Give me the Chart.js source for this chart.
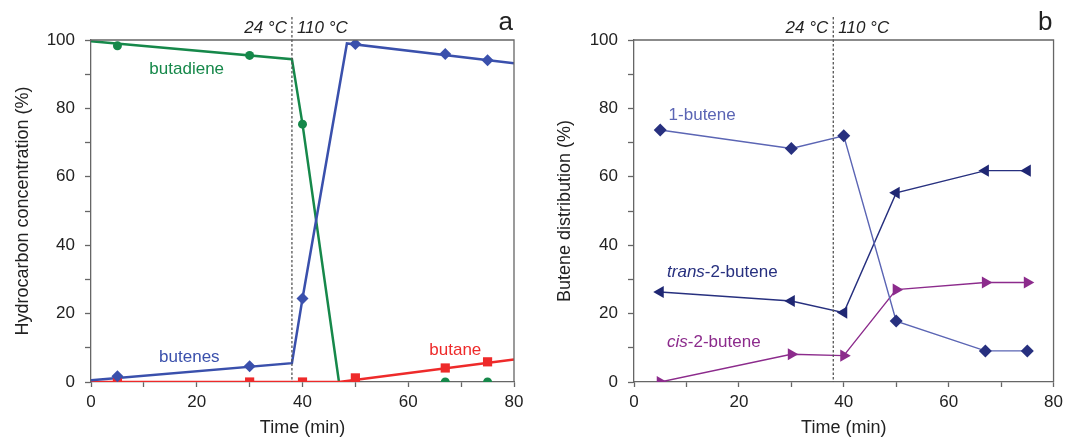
<!DOCTYPE html>
<html>
<head>
<meta charset="utf-8">
<script src="https://cdn.jsdelivr.net/npm/chart.js@4"></script>
<style>
  body { margin: 0; background: #fff; }
  .wrap { position: relative; width: 1068px; height: 437px; }
  canvas { position: absolute; top: 0; }
  #chartA { left: 0; }
  #chartB { left: 534px; }
</style>
</head>
<body>
<div class="wrap">
  <canvas id="chartA" width="534" height="437"></canvas>
  <canvas id="chartB" width="534" height="437"></canvas>
</div>
<script>
// ---- data ----
const TIME = [5, 30, 40, 50, 67, 75];
const X_TICKS = [0, 20, 40, 60, 80];
const Y_TICKS = [0, 20, 40, 60, 80, 100];
const SWITCH_TIME = 38; // 24 °C -> 110 °C

// panel a: hydrocarbon concentration (%)
const butadiene = [98.3, 95.5, 75.4, 0, 0, 0];
const butenes = [1.7, 4.6, 24.4, 98.8, 95.9, 94.1];
const butane = [0, 0, 0, 1.2, 4.1, 5.9];
// guide curves drawn through the points
const butadieneFitX = [0, 38, 40, 46.9];
const butadieneFitY = [99.6, 94.4, 75.4, 0];
const butenesFitX = [0, 38, 40, 48.4, 80];
const butenesFitY = [0.5, 5.5, 24.4, 99, 93.2];
const butaneFitX = [0, 46.9, 80];
const butaneFitY = [0, 0, 6.6];

// panel b: butene distribution (%)
const oneButene = [73.7, 68.3, 72.0, 17.8, 9.1, 9.1];
const trans2Butene = [26.3, 23.7, 20.3, 55.3, 61.8, 61.8];
const cis2Butene = [0, 8.1, 7.7, 27.0, 29.1, 29.1];

const COLOR = {
  green: "#16884a",
  blue: "#3a50ac",
  red: "#ee2a2a",
  navy: "#27307f",
  navyMarker: "#1f2773",
  lightBlue: "#5b65b4",
  purple: "#8c2b8c",
  axis: "#666",
  text: "#222",
};
const FONT = "'Liberation Sans', Arial, Helvetica, sans-serif";

const pts = (xs, ys) => xs.map((x, i) => ({ x, y: ys[i] }));

function lineSet(xs, ys, color, width, order) {
  return {
    data: pts(xs, ys),
    borderColor: color,
    borderWidth: width,
    pointRadius: 0,
    tension: 0,
    order,
  };
}

function markerSet(xs, ys, color, style, radius, order, rotation = 0) {
  return {
    data: pts(xs, ys),
    showLine: false,
    pointStyle: style,
    pointRadius: radius,
    pointRotation: rotation,
    pointBackgroundColor: color,
    pointBorderColor: color,
    pointBorderWidth: 0,
    order,
  };
}

// frame, temperature marker, panel letter and series labels
const decorPlugin = {
  id: "decor",
  afterDatasetsDraw(chart, args, opts) {
    const { ctx, chartArea: a, scales } = chart;
    const x = scales.x;
    const y = scales.y;
    ctx.save();

    // top + right frame
    ctx.strokeStyle = COLOR.axis;
    ctx.lineWidth = 1.3;
    ctx.beginPath();
    ctx.moveTo(a.left, a.top);
    ctx.lineTo(a.right, a.top);
    ctx.lineTo(a.right, a.bottom);
    ctx.stroke();

    // temperature switch line
    const xs = x.getPixelForValue(SWITCH_TIME);
    ctx.strokeStyle = "#555";
    ctx.lineWidth = 1.3;
    ctx.setLineDash([2.5, 2]);
    ctx.beginPath();
    ctx.moveTo(xs, 17);
    ctx.lineTo(xs, a.bottom);
    ctx.stroke();
    ctx.setLineDash([]);

    ctx.fillStyle = COLOR.text;
    ctx.font = `italic 17px ${FONT}`;
    ctx.textBaseline = "middle";
    ctx.textAlign = "right";
    ctx.fillText("24 °C", xs - 5, 28);
    ctx.textAlign = "left";
    ctx.fillText("110 °C", xs + 5, 28);

    ctx.font = `26px ${FONT}`;
    ctx.textAlign = "right";
    ctx.fillText(opts.letter, a.right - 1, 23);

    // series labels
    opts.labels.forEach((l) => {
      const px = x.getPixelForValue(l.x);
      const py = y.getPixelForValue(l.y);
      ctx.textAlign = l.align || "center";
      ctx.fillStyle = l.color;
      if (l.italic) {
        ctx.font = `italic 17px ${FONT}`;
        ctx.fillText(l.italic, px, py);
        const w = ctx.measureText(l.italic).width;
        ctx.font = `17px ${FONT}`;
        ctx.fillText(l.text, px + w, py);
      } else {
        ctx.font = `17px ${FONT}`;
        ctx.fillText(l.text, px, py);
      }
    });
    ctx.restore();
  },
};

function scalesFor(yTitle, yWidth, titlePad) {
  const tickFont = { family: FONT, size: 17 };
  return {
    x: {
      type: "linear",
      min: 0,
      max: 80,
      afterBuildTicks: (s) => {
        s.ticks = [];
        for (let v = 0; v <= 80; v += 10) s.ticks.push({ value: v });
      },
      afterFit: (s) => {
        s.height = 55;
      },
      grid: { drawOnChartArea: false, tickLength: 5, color: COLOR.axis, tickWidth: 1.3 },
      border: { color: COLOR.axis, width: 1.3 },
      ticks: {
        font: tickFont,
        color: COLOR.text,
        padding: 5,
        maxRotation: 0,
        callback: (v) => (X_TICKS.includes(v) ? v : ""),
      },
      title: {
        display: true,
        text: "Time (min)",
        font: { family: FONT, size: 18 },
        color: COLOR.text,
        padding: { top: 0, bottom: -2 },
      },
    },
    y: {
      type: "linear",
      min: 0,
      max: 100,
      afterBuildTicks: (s) => {
        s.ticks = [];
        for (let v = 0; v <= 100; v += 10) s.ticks.push({ value: v });
      },
      afterFit: (s) => {
        s.width = yWidth;
      },
      grid: { drawOnChartArea: false, tickLength: 6, color: COLOR.axis, tickWidth: 1.3 },
      border: { color: COLOR.axis, width: 1.3 },
      ticks: {
        font: tickFont,
        color: COLOR.text,
        padding: 10,
        callback: (v) => (Y_TICKS.includes(v) ? v : ""),
      },
      title: {
        display: true,
        text: yTitle,
        font: { family: FONT, size: 18 },
        color: COLOR.text,
        padding: { top: titlePad, bottom: 0 },
      },
    },
  };
}

function baseOptions(yTitle, yWidth, titlePad, rightPad, letter, labels) {
  return {
    responsive: false,
    animation: false,
    devicePixelRatio: 1,
    layout: { padding: { top: 40, right: rightPad, left: 0, bottom: 0 } },
    plugins: {
      legend: { display: false },
      tooltip: { enabled: false },
      decor: { letter, labels },
    },
    scales: scalesFor(yTitle, yWidth, titlePad),
  };
}

// panel a
new Chart(document.getElementById("chartA"), {
  type: "line",
  data: {
    datasets: [
      markerSet(TIME, butenes, COLOR.blue, "rectRot", 6, 1),
      markerSet(TIME, butane, COLOR.red, "rect", 6.5, 2),
      markerSet(TIME, butadiene, COLOR.green, "circle", 4.5, 3),
      lineSet(butenesFitX, butenesFitY, COLOR.blue, 2.5, 4),
      lineSet(butaneFitX, butaneFitY, COLOR.red, 2.5, 5),
      lineSet(butadieneFitX, butadieneFitY, COLOR.green, 2.5, 6),
    ],
  },
  options: baseOptions("Hydrocarbon concentration (%)", 91, 12, 20, "a", [
    { text: "butadiene", x: 18.1, y: 91.5, color: COLOR.green },
    { text: "butenes", x: 18.6, y: 7.3, color: COLOR.blue },
    { text: "butane", x: 68.9, y: 9.3, color: COLOR.red },
  ]),
  plugins: [decorPlugin],
});

// panel b
const bSet = (ys, lineColor, markColor, style, radius, rotation, order) => ({
  data: pts(TIME, ys),
  borderColor: lineColor,
  borderWidth: 1.4,
  tension: 0,
  pointStyle: style,
  pointRadius: radius,
  pointRotation: rotation,
  pointBackgroundColor: markColor,
  pointBorderColor: markColor,
  pointBorderWidth: 0,
  order,
});

new Chart(document.getElementById("chartB"), {
  type: "line",
  data: {
    datasets: [
      bSet(oneButene, COLOR.lightBlue, COLOR.navy, "rectRot", 6.5, 0, 1),
      bSet(trans2Butene, COLOR.navy, COLOR.navyMarker, "triangle", 7, -90, 2),
      bSet(cis2Butene, COLOR.purple, COLOR.purple, "triangle", 7, 90, 3),
    ],
  },
  options: baseOptions("Butene distribution (%)", 100, 20, 11, "b", [
    { text: "1-butene", x: 6.6, y: 78.0, color: COLOR.lightBlue, align: "left" },
    { italic: "trans", text: "-2-butene", x: 6.3, y: 32.2, color: COLOR.navy, align: "left" },
    { italic: "cis", text: "-2-butene", x: 6.3, y: 11.7, color: COLOR.purple, align: "left" },
  ]),
  plugins: [decorPlugin],
});
</script>
</body>
</html>
